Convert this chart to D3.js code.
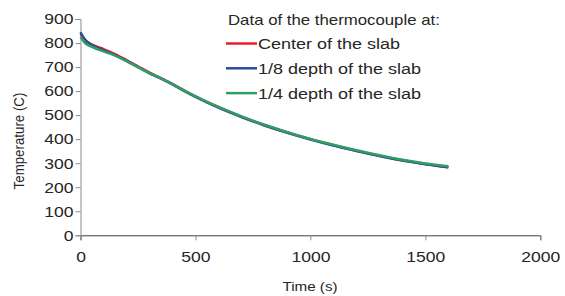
<!DOCTYPE html>
<html>
<head>
<meta charset="utf-8">
<script src="https://cdn.jsdelivr.net/npm/d3@7"></script>
<style>
  body { margin: 0; background: #fff; }
  svg { font-family: "Liberation Sans", Arial, sans-serif; }
</style>
</head>
<body>
<div id="chart"></div>
<script>
// Time samples (s)
const times = [0, 20, 50, 100, 150, 200, 250, 300, 350, 400, 450, 500, 600, 700, 800, 900, 1000, 1100, 1200, 1300, 1400, 1500, 1600];

// Temperature readings (C)
const centerTemps = [838, 812, 793, 775, 754, 729, 703, 677, 654, 630, 603, 578, 533, 494, 459, 428, 400, 375, 352, 331, 312, 297, 283];
const eighthTemps = [845, 814, 792, 770, 750, 726, 700, 674, 652, 628, 601, 576, 531, 492, 457, 426, 398, 373, 351, 330, 311, 296, 283];
const quarterTemps = [826, 800, 784, 765, 748, 725, 700, 675, 653, 629, 603, 578, 534, 495, 460, 429, 401, 377, 354, 333, 314, 299, 287];

const seriesNames = ['Center of the slab', '1/8 depth of the slab', '1/4 depth of the slab'];
const seriesColours = ['#ed1c24', '#2e4a9e', '#2e9e63'];
const xTicks = [0, 500, 1000, 1500, 2000];
const yTicks = [0, 100, 200, 300, 400, 500, 600, 700, 800, 900];

// The reference text is slightly wide, so stretch it horizontally
const stretch = 1.17;

function drawChart() {
    const width = 565, height = 296;
    const margin = { left: 80.5, right: 25, top: 19, bottom: 61 };

    const svg = d3.select('#chart')
        .append('svg')
        .attr('width', width)
        .attr('height', height);

    const x = d3.scaleLinear()
        .domain([0, 2000])
        .range([margin.left, width - margin.right + 0.3]);

    const y = d3.scaleLinear()
        .domain([0, 900])
        .range([height - margin.bottom + 0.3, margin.top]);

    // Axes
    const xAxis = svg.append('g')
        .attr('transform', `translate(0,${y(0)})`)
        .call(d3.axisBottom(x).tickValues(xTicks).tickFormat(d3.format('d')).tickSize(5).tickPadding(10));

    const yAxis = svg.append('g')
        .attr('transform', `translate(${x(0)},0)`)
        .call(d3.axisLeft(y).tickValues(yTicks).tickFormat(d3.format('d')).tickSize(5).tickPadding(7));

    [xAxis, yAxis].forEach(ax => {
        ax.select('.domain').attr('stroke', '#8a8a8a').attr('stroke-width', 1);
        ax.selectAll('.tick line').attr('stroke', '#8a8a8a');
        ax.selectAll('.tick text')
            .attr('fill', '#262626')
            .attr('transform', `scale(${stretch},1)`)
            .style('font-size', '15px')
            .style('font-family', '"Liberation Sans", Arial, sans-serif');
    });
    xAxis.select('.domain').attr('stroke', '#404040');
    xAxis.selectAll('.tick text').attr('dy', '0.75em');
    yAxis.selectAll('.tick text').attr('x', -7 / stretch);

    // Axis titles
    svg.append('text')
        .attr('transform', `translate(310,291) scale(${stretch},1)`)
        .attr('text-anchor', 'middle')
        .attr('fill', '#262626')
        .style('font-size', '13px')
        .text('Time (s)');

    svg.append('text')
        .attr('transform', `translate(24,141) rotate(-90) scale(1,${stretch})`)
        .attr('text-anchor', 'middle')
        .attr('fill', '#262626')
        .style('font-size', '13.3px')
        .text('Temperature (C)');

    // Lines
    const line = d3.line()
        .x((d, i) => x(times[i]))
        .y(d => y(d))
        .curve(d3.curveMonotoneX);

    const allSeries = [centerTemps, eighthTemps, quarterTemps];
    allSeries.forEach((vals, i) => {
        svg.append('path')
            .datum(vals)
            .attr('fill', 'none')
            .attr('stroke', seriesColours[i])
            .attr('stroke-width', 2.5)
            .attr('d', line);
    });

    // Legend
    const legend = svg.append('g');
    legend.append('text')
        .attr('transform', `translate(228,25) scale(1.2,1)`)
        .attr('fill', '#262626')
        .style('font-size', '14px')
        .text('Data of the thermocouple at:');

    seriesNames.forEach((name, i) => {
        const cy = 43.5 + i * 24.8;
        legend.append('line')
            .attr('x1', 226).attr('x2', 257)
            .attr('y1', cy).attr('y2', cy)
            .attr('stroke', seriesColours[i])
            .attr('stroke-width', 2.5);
        legend.append('text')
            .attr('transform', `translate(258,${cy + 5.5}) scale(1.2,1)`)
            .attr('fill', '#262626')
            .style('font-size', '15px')
            .text(name);
    });
}

drawChart();
</script>
</body>
</html>
